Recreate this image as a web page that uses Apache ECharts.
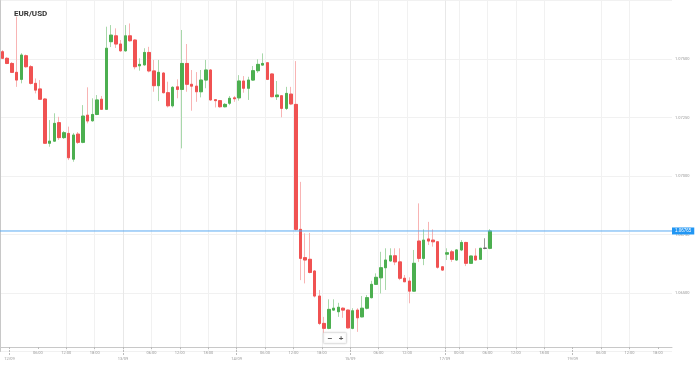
<!DOCTYPE html>
<html><head><meta charset="utf-8">
<script src="https://cdn.jsdelivr.net/npm/echarts@6/dist/echarts.min.js"></script>
<style>html,body{margin:0;padding:0;background:#fff}#c{width:698px;height:365px}</style>
</head><body><div id="c"></div>
<script>
const chartTitle = 'EUR/USD';
// trading sessions (day, first hour, last hour) – weekend is skipped
const sessions = [['11/09',22,23],['12/09',0,23],['13/09',0,23],['14/09',0,23],['15/09',0,19],['17/09',21,23],['18/09',0,23],['19/09',0,21]];
const opens  = [1.07531,1.07503,1.07481,1.07443,1.07413,1.07514,1.07467,1.07396,1.07372,1.07329,
 1.07140,1.07149,1.07228,1.07164,1.07182,1.07072,1.07179,1.07144,1.07260,1.07236,
 1.07263,1.07328,1.07285,1.07574,1.07599,1.07564,1.07535,1.07599,1.07581,1.07471,
 1.07475,1.07528,1.07449,1.07386,1.07440,1.07356,1.07300,1.07381,1.07370,1.07481,
 1.07392,1.07384,1.07360,1.07410,1.07453,1.07326,1.07322,1.07296,1.07311,1.07334,
 1.07334,1.07406,1.07375,1.07410,1.07450,1.07474,1.07484,1.07436,1.07339,1.07343,
 1.07289,1.07350,1.07306,1.06772,1.06651,1.06644,1.06594,1.06487,1.06370,1.06349,
 1.06427,1.06420,1.06435,1.06427,1.06349,1.06427,1.06398,1.06435,1.06480,1.06537,
 1.06565,1.06608,1.06637,1.06659,1.06633,1.06563,1.06551,1.06508,1.06722,1.06648,
 1.06731,1.06726,1.06719,1.06612,1.06666,1.06676,1.06641,1.06684,1.06716,1.06627,
 1.06658,1.06644,1.06691,1.06691];
const closes = [1.07503,1.07481,1.07443,1.07410,1.07517,1.07467,1.07396,1.07367,1.07328,1.07140,
 1.07149,1.07225,1.07164,1.07185,1.07078,1.07175,1.07144,1.07256,1.07235,1.07263,
 1.07325,1.07285,1.07546,1.07602,1.07564,1.07535,1.07599,1.07578,1.07467,1.07477,
 1.07528,1.07449,1.07386,1.07443,1.07356,1.07300,1.07379,1.07370,1.07481,1.07392,
 1.07384,1.07360,1.07410,1.07453,1.07325,1.07322,1.07296,1.07306,1.07332,1.07330,
 1.07406,1.07375,1.07410,1.07450,1.07477,1.07481,1.07413,1.07339,1.07346,1.07289,
 1.07353,1.07308,1.06772,1.06648,1.06641,1.06588,1.06487,1.06370,1.06349,1.06430,
 1.06435,1.06439,1.06427,1.06351,1.06424,1.06394,1.06435,1.06480,1.06537,1.06567,
 1.06608,1.06641,1.06659,1.06633,1.06563,1.06548,1.06508,1.06627,1.06648,1.06726,
 1.06722,1.06719,1.06610,1.06598,1.06672,1.06644,1.06684,1.06716,1.06627,1.06658,
 1.06641,1.06691,1.06691,1.06765];
const lows   = [1.07500,1.07478,1.07440,1.07381,1.07396,1.07463,1.07391,1.07353,1.07325,1.07137,
 1.07125,1.07146,1.07154,1.07158,1.07068,1.07061,1.07137,1.07140,1.07225,1.07232,
 1.07260,1.07282,1.07282,1.07551,1.07547,1.07531,1.07531,1.07574,1.07456,1.07450,
 1.07471,1.07443,1.07360,1.07320,1.07353,1.07293,1.07293,1.07332,1.07118,1.07360,
 1.07279,1.07317,1.07336,1.07375,1.07322,1.07293,1.07292,1.07293,1.07303,1.07317,
 1.07322,1.07356,1.07325,1.07406,1.07441,1.07471,1.07410,1.07336,1.07325,1.07251,
 1.07282,1.07303,1.06767,1.06555,1.06541,1.06584,1.06481,1.06363,1.06320,1.06345,
 1.06424,1.06398,1.06394,1.06348,1.06345,1.06334,1.06396,1.06430,1.06477,1.06534,
 1.06498,1.06513,1.06634,1.06619,1.06555,1.06547,1.06456,1.06505,1.06633,1.06619,
 1.06705,1.06698,1.06604,1.06594,1.06641,1.06633,1.06638,1.06679,1.06615,1.06624,
 1.06638,1.06641,1.06687,1.06687];
const highs  = [1.07538,1.07508,1.07487,1.07681,1.07525,1.07519,1.07474,1.07417,1.07410,1.07333,
 1.07239,1.07268,1.07253,1.07192,1.07211,1.07184,1.07188,1.07303,1.07379,1.07332,
 1.07346,1.07342,1.07638,1.07645,1.07631,1.07581,1.07645,1.07652,1.07585,1.07503,
 1.07546,1.07552,1.07496,1.07496,1.07444,1.07403,1.07384,1.07413,1.07624,1.07564,
 1.07453,1.07444,1.07453,1.07496,1.07457,1.07329,1.07325,1.07312,1.07342,1.07342,
 1.07431,1.07427,1.07424,1.07470,1.07499,1.07524,1.07487,1.07439,1.07406,1.07346,
 1.07381,1.07381,1.07491,1.06975,1.06755,1.06757,1.06598,1.06513,1.06398,1.06473,
 1.06473,1.06458,1.06439,1.06430,1.06435,1.06435,1.06487,1.06491,1.06552,1.06584,
 1.06676,1.06691,1.06691,1.06691,1.06691,1.06577,1.06567,1.06684,1.06883,1.06772,
 1.06804,1.06772,1.06722,1.06614,1.06691,1.06684,1.06687,1.06726,1.06719,1.06659,
 1.06691,1.06693,1.06734,1.06773];
const dateTicks = ['12/09 00:00','13/09 00:00','14/09 00:00','15/09 00:00','17/09 21:00','19/09 00:00'];
const timeTicks = ['12/09 06:00','12/09 12:00','12/09 18:00','13/09 06:00','13/09 12:00','13/09 18:00',
 '14/09 06:00','14/09 12:00','14/09 18:00','15/09 06:00','15/09 12:00','18/09 00:00','18/09 06:00',
 '18/09 12:00','18/09 18:00','19/09 06:00','19/09 12:00','19/09 18:00'];
const yMin = 1.0625, yMax = 1.0775, yStep = 0.0025;

const pad = n => (n < 10 ? '0' : '') + n;
const boundaries = [];
sessions.forEach(([d, a, b]) => { for (let h = a; h <= b; h++) boundaries.push(d + ' ' + pad(h) + ':00'); });
const categories = boundaries.slice(0, -1);
const dateSet = new Set(dateTicks), timeSet = new Set(timeTicks);
const isDate = (i, v) => dateSet.has(v);
const isTime = (i, v) => timeSet.has(v);

const full = opens.map((o, i) => [o, closes[i], lows[i], highs[i]]);
const bodies = opens.map((o, i) => [o, closes[i], Math.min(o, closes[i]), Math.max(o, closes[i])]);
const last = closes[closes.length - 1];

const GREEN = '#4caf50', RED = '#f05252', BLUE = '#5aaaf2';
const chart = echarts.init(document.getElementById('c'));
chart.setOption({
  animation: false,
  title: { text: chartTitle, left: 9, top: 5, textStyle: { fontSize: 8, fontWeight: 'bold', color: '#333', fontFamily: 'Roboto' } },
  grid: { left: 0, right: 26, top: 0.5, height: 351 },
  xAxis: [
    { type: 'category', data: categories, boundaryGap: true, show: false, splitLine: { show: false } },
    { type: 'category', data: boundaries, boundaryGap: false, position: 'bottom', offset: -4.5,
      axisLine: { show: true, lineStyle: { color: '#c8c8c8' } },
      axisTick: { show: true, interval: isTime, length: 2, lineStyle: { color: '#bbb' } },
      axisLabel: { interval: isTime, formatter: v => v.slice(6), fontSize: 4, color: '#999', margin: 4, fontFamily: 'Roboto' },
      splitLine: { show: true, interval: isTime, showMinLine: false, showMaxLine: false, lineStyle: { color: '#f1f1f1' } } },
    { type: 'category', data: boundaries, boundaryGap: false, position: 'bottom', offset: -4.5,
      axisLine: { show: false },
      axisTick: { show: true, interval: isDate, length: 9, lineStyle: { color: '#bbb', type: [2, 1] } },
      axisLabel: { interval: isDate, formatter: v => v.slice(0, 5), fontSize: 4, color: '#999', margin: 10, fontFamily: 'Roboto' },
      splitLine: { show: true, interval: isDate, showMinLine: false, showMaxLine: false, lineStyle: { color: '#e8e8e8' } } },
    { type: 'value', min: 0, max: 1, show: false, splitLine: { show: false } }
  ],
  yAxis: { type: 'value', position: 'right', min: yMin, max: yMax, interval: yStep, scale: true,
    axisLine: { show: true, lineStyle: { color: '#c8c8c8' } },
    axisTick: { show: false },
    axisLabel: { fontSize: 4, color: '#999', margin: 3, formatter: v => v.toFixed(5), showMinLabel: false, showMaxLabel: false, fontFamily: 'Roboto' },
    splitLine: { lineStyle: { color: '#f1f1f1' } } },
  series: [
    { type: 'candlestick', xAxisIndex: 0, data: full, barWidth: 3,
      itemStyle: { color: '#a8d8aa', color0: '#f8b4b4', borderColor: '#a8d8aa', borderColor0: '#f8b4b4', borderColorDoji: '#999', borderWidth: 1 } },
    { type: 'candlestick', xAxisIndex: 0, data: bodies, barWidth: 3,
      itemStyle: { color: GREEN, color0: RED, borderColor: GREEN, borderColor0: RED, borderColorDoji: '#666', borderWidth: 1 } },
    { type: 'line', xAxisIndex: 3, data: [[0, last], [1, last]], symbol: 'none', silent: true, z: 5,
      itemStyle: { color: BLUE },
      lineStyle: { color: BLUE, width: 1 },
      endLabel: { show: true, distance: 0, formatter: p => Number(p.value[1]).toFixed(5), backgroundColor: '#2196f3', color: '#fff', fontSize: 4.5, padding: [1, 3, 1, 3] } }
  ],
  graphic: [
    { type: 'rect', shape: { x: 323.5, y: 332.5, width: 23, height: 11, r: 1 }, style: { fill: '#fff', stroke: '#e2e2e2', lineWidth: 1, shadowBlur: 2, shadowColor: 'rgba(0,0,0,0.12)' }, z: 100 },
    { type: 'text', x: 330, y: 338.5, style: { text: '−', font: 'bold 8px sans-serif', fill: '#555', align: 'center', verticalAlign: 'middle' }, z: 101 },
    { type: 'text', x: 341, y: 338.5, style: { text: '+', font: 'bold 8px sans-serif', fill: '#555', align: 'center', verticalAlign: 'middle' }, z: 101 }
  ]
});
</script></body></html>
